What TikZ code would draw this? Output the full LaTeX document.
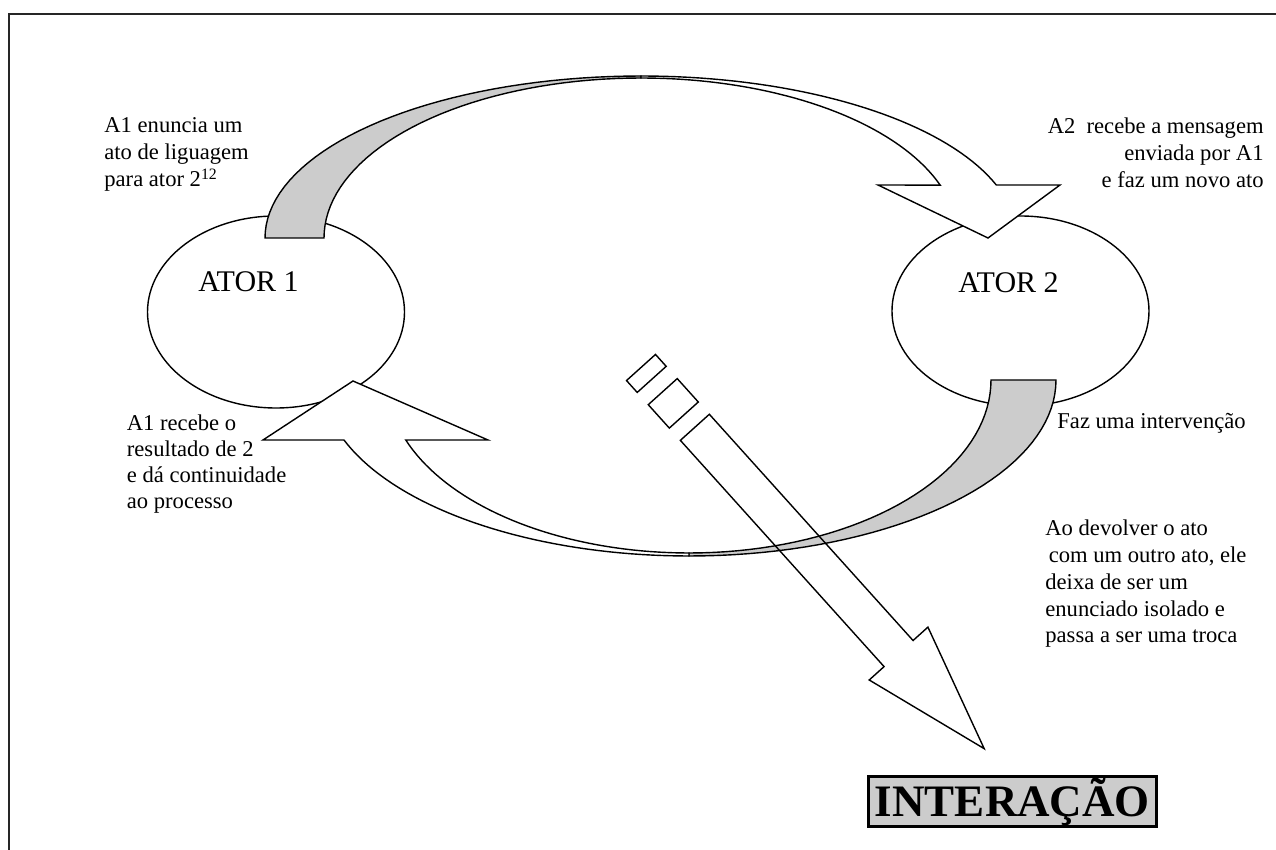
\documentclass[tikz,border=0pt]{standalone}
\usepackage{fontspec}
\setmainfont{Liberation Serif}
\usetikzlibrary{shapes.geometric}
\definecolor{shade}{RGB}{204,204,204}
\begin{document}
\begin{tikzpicture}[x=0.5pt,y=-0.5pt]
\tikzset{
  shapeline/.style={draw=black, line width=0.7pt, line join=miter},
  actor/.style={ellipse, shapeline, fill=white, inner sep=0pt},
  note/.style={font=\fontsize{11.3}{13.5}\selectfont, inner sep=0pt, align=left},
  actorlabel/.style={font=\fontsize{15}{18}\selectfont, inner sep=0pt, anchor=base},
  titlebox/.style={draw=black, line width=1.5pt, fill=shade, inner sep=0pt,
    font=\fontsize{22.5}{27}\selectfont\bfseries},
}
\useasboundingbox (0,0) rectangle (1276,850);
% page frame
\draw[line width=1pt, black!85] (9,850) -- (9,14) -- (1276,14);

% actors
\node[actor, minimum width=128.5pt, minimum height=96pt] (a1) at (276,312) {};
\node[actor, minimum width=128.5pt, minimum height=95pt] (a2) at (1020.5,311) {};

% top curved arrow (A1 -> A2)
\path[shapeline, fill=shade]
  plot[domain=180:90, samples=40] ({641+376*cos(\x)},{238-162*sin(\x)})
  -- plot[domain=90:180, samples=40] ({641+317*cos(\x)},{238-160*sin(\x)})
  -- cycle;
\path[shapeline, fill=white]
  plot[domain=90:19.1, samples=40] ({641+376*cos(\x)},{238-162*sin(\x)})
  -- (1060,185) -- (988,238) -- (878,185)
  -- plot[domain=19.3:90, samples=40] ({641+317*cos(\x)},{238-160*sin(\x)})
  -- cycle;

% bottom curved arrow (A2 -> A1)
\path[shapeline, fill=shade]
  plot[domain=0:90, samples=40] ({689+367*cos(\x)},{380+176*sin(\x)})
  -- plot[domain=90:0, samples=40] ({689+302*cos(\x)},{380+173*sin(\x)})
  -- cycle;
\path[shapeline, fill=white]
  plot[domain=90:160.06, samples=40] ({689+367*cos(\x)},{380+176*sin(\x)})
  -- (263,440) -- (353,381) -- (488,440)
  -- plot[domain=159.7:90, samples=40] ({689+302*cos(\x)},{380+173*sin(\x)})
  -- cycle;

% striped arrow towards INTERACAO
\begin{scope}[shift={(641,367.5)}, x={(0.3345pt,-0.3715pt)}, y={(0.3715pt,0.3345pt)}, shapeline]
  \draw (0,-19.5) -- (16,-19.5) -- (16,19.5) -- (0,19.5) -- cycle;
  \draw (32.5,-19.5) -- (64,-19.5) -- (64,19.5) -- (32.5,19.5) -- cycle;
  \draw (80.5,-19.5) -- (385,-19.5) -- (385,-39.5) -- (513,0) -- (385,39.5)
        -- (385,19.5) -- (80.5,19.5) -- cycle;
\end{scope}

% labels
\node[actorlabel] (l1) at (248.5,292) {ATOR 1};
\node[actorlabel] (l2) at (1008.5,293) {ATOR 2};

\node[note, anchor=north west] (t1) at (104,117.6)
  {A1 enuncia um\\ato de liguagem\\para ator 2\textsuperscript{12}};
\node[note, anchor=north east, align=right] (t2) at (1264,117.6)
  {A2\ \ recebe a mensagem\\enviada por A1\\e faz um novo ato};
\node[note, anchor=base west] (t3) at (1057,429) {Faz uma intervenção};
\node[note, font=\fontsize{11.3}{13.4}\selectfont, anchor=north west] (t4) at (1045,519.6)
  {Ao devolver o ato\\\hspace*{0.15em}com um outro ato, ele\\deixa de ser um\\enunciado isolado e\\passa a ser uma troca};
\node[note, font=\fontsize{11.3}{13}\selectfont, anchor=north west] (t5) at (126.5,414.6)
  {A1 recebe o\\resultado de 2\\e dá continuidade\\ao processo};

\node[titlebox, minimum width=144pt, minimum height=25pt] (inter) at (1012.5,801.5) {INTERAÇÃO};
\end{tikzpicture}
\end{document}
